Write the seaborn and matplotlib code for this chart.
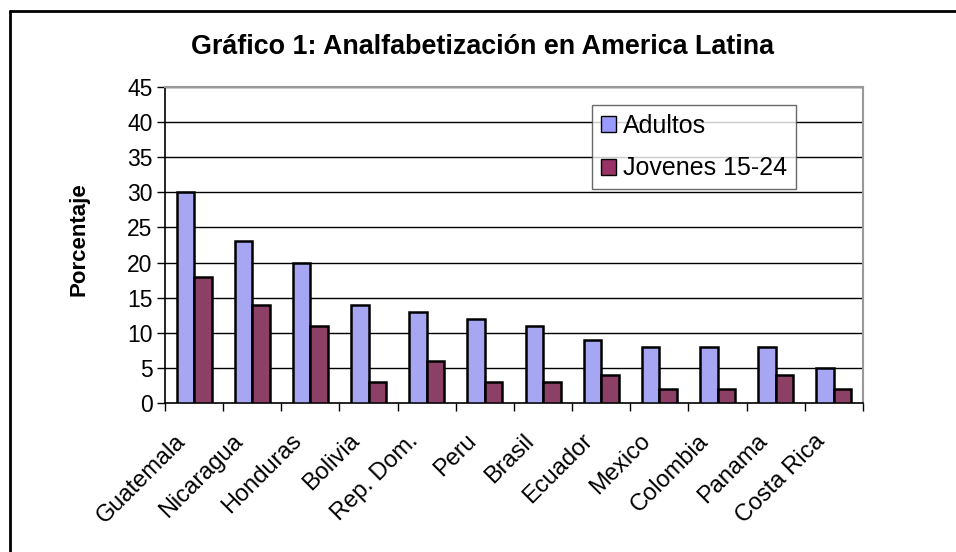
import matplotlib
matplotlib.use("Agg")
import matplotlib.pyplot as plt
import matplotlib.transforms as mtransforms
import seaborn as sns
import pandas as pd
from matplotlib.lines import Line2D
from matplotlib.patches import Patch

paises = ["Guatemala", "Nicaragua", "Honduras", "Bolivia", "Rep. Dom.", "Peru",
          "Brasil", "Ecuador", "Mexico", "Colombia", "Panama", "Costa Rica"]
adultos = [30, 23, 20, 14, 13, 12, 11, 9, 8, 8, 8, 5]
jovenes = [18, 14, 11, 3, 6, 3, 3, 4, 2, 2, 4, 2]
series = ["Adultos", "Jovenes 15-24"]
colores = ["#9999FF", "#993366"]
yticks = [0, 5, 10, 15, 20, 25, 30, 35, 40, 45]

df = pd.DataFrame({
    "Pais": paises * 2,
    "Valor": adultos + jovenes,
    "Serie": [series[0]] * len(paises) + [series[1]] * len(paises),
})

sns.set_theme(style="white")
plt.rcParams["font.family"] = ["Liberation Sans", "DejaVu Sans"]
plt.rcParams["text.color"] = "black"
plt.rcParams["xtick.color"] = "black"
plt.rcParams["ytick.color"] = "black"
plt.rcParams["axes.labelcolor"] = "black"

fig = plt.figure(figsize=(9.56, 5.52), dpi=100)
ax = fig.add_axes([0.1726, 0.2699, 0.9027 - 0.1726, 0.8424 - 0.2699])

sns.barplot(data=df, x="Pais", y="Valor", hue="Serie", palette=colores,
            width=0.6, edgecolor="black", linewidth=1.8, ax=ax, legend=False,
            zorder=3)

ax.set_ylim(0, 45)
ax.set_xlim(-0.5, len(paises) - 0.5)
ax.set_yticks(yticks)
ax.set_yticklabels([str(v) for v in yticks], fontsize=16.5)
for v in yticks[1:]:
    ax.axhline(v, color="black", linewidth=1.0, zorder=1)

# category ticks at boundaries (Excel-style)
ax.set_xticks(range(len(paises)))
ax.set_xticklabels(paises, rotation=45, ha="right", rotation_mode="anchor",
                   fontsize=17)
ax.tick_params(axis="x", length=0, pad=10)
offset = mtransforms.ScaledTranslation(-20 / 100, -13 / 100, fig.dpi_scale_trans)
for lab in ax.get_xticklabels():
    lab.set_transform(lab.get_transform() + offset)
ax.set_xticks([i - 0.5 for i in range(len(paises) + 1)], minor=True)
ax.tick_params(axis="x", which="minor", length=6, width=1, color="black",
               direction="out", bottom=True)
ax.tick_params(axis="y", length=6, width=1, color="black", direction="out",
               left=True, pad=3)

for side in ["left", "bottom"]:
    ax.spines[side].set_color("black")
    ax.spines[side].set_linewidth(1.2)
for side in ["top", "right"]:
    ax.spines[side].set_visible(True)
    ax.spines[side].set_color("#999999")
    ax.spines[side].set_linewidth(1.5)

ax.set_xlabel("")
ax.set_ylabel("Porcentaje", fontsize=16, fontweight="bold")
ax.yaxis.set_label_coords((89 - 165) / 698, (403 - 239) / 316)

handles = [Patch(facecolor=c, edgecolor="black", linewidth=1.0) for c in colores]
leg = ax.legend(handles, series, loc="upper left",
                bbox_to_anchor=((592 - 165) / (863 - 165), (403 - 105) / (403 - 87)),
                fontsize=18, frameon=True, fancybox=False, handlelength=0.6,
                handleheight=0.6, handletextpad=0.3, borderpad=0.35,
                labelspacing=0.75, borderaxespad=0)
leg.get_frame().set_edgecolor("#444444")
leg.get_frame().set_linewidth(1.0)
leg.set_zorder(5)

fig.text(0.505, 1 - 47 / 552, "Gráfico 1: Analfabetización en America Latina",
         ha="center", va="center", fontsize=19.4, fontweight="bold")

# outer frame (left and top edges visible)
fig.add_artist(Line2D([9.5 / 956, 9.5 / 956], [0, 1 - 11 / 552],
                      color="black", linewidth=2, transform=fig.transFigure))
fig.add_artist(Line2D([9.5 / 956, 1], [1 - 11 / 552, 1 - 11 / 552],
                      color="black", linewidth=2, transform=fig.transFigure))

fig.savefig("out.png", dpi=100)
